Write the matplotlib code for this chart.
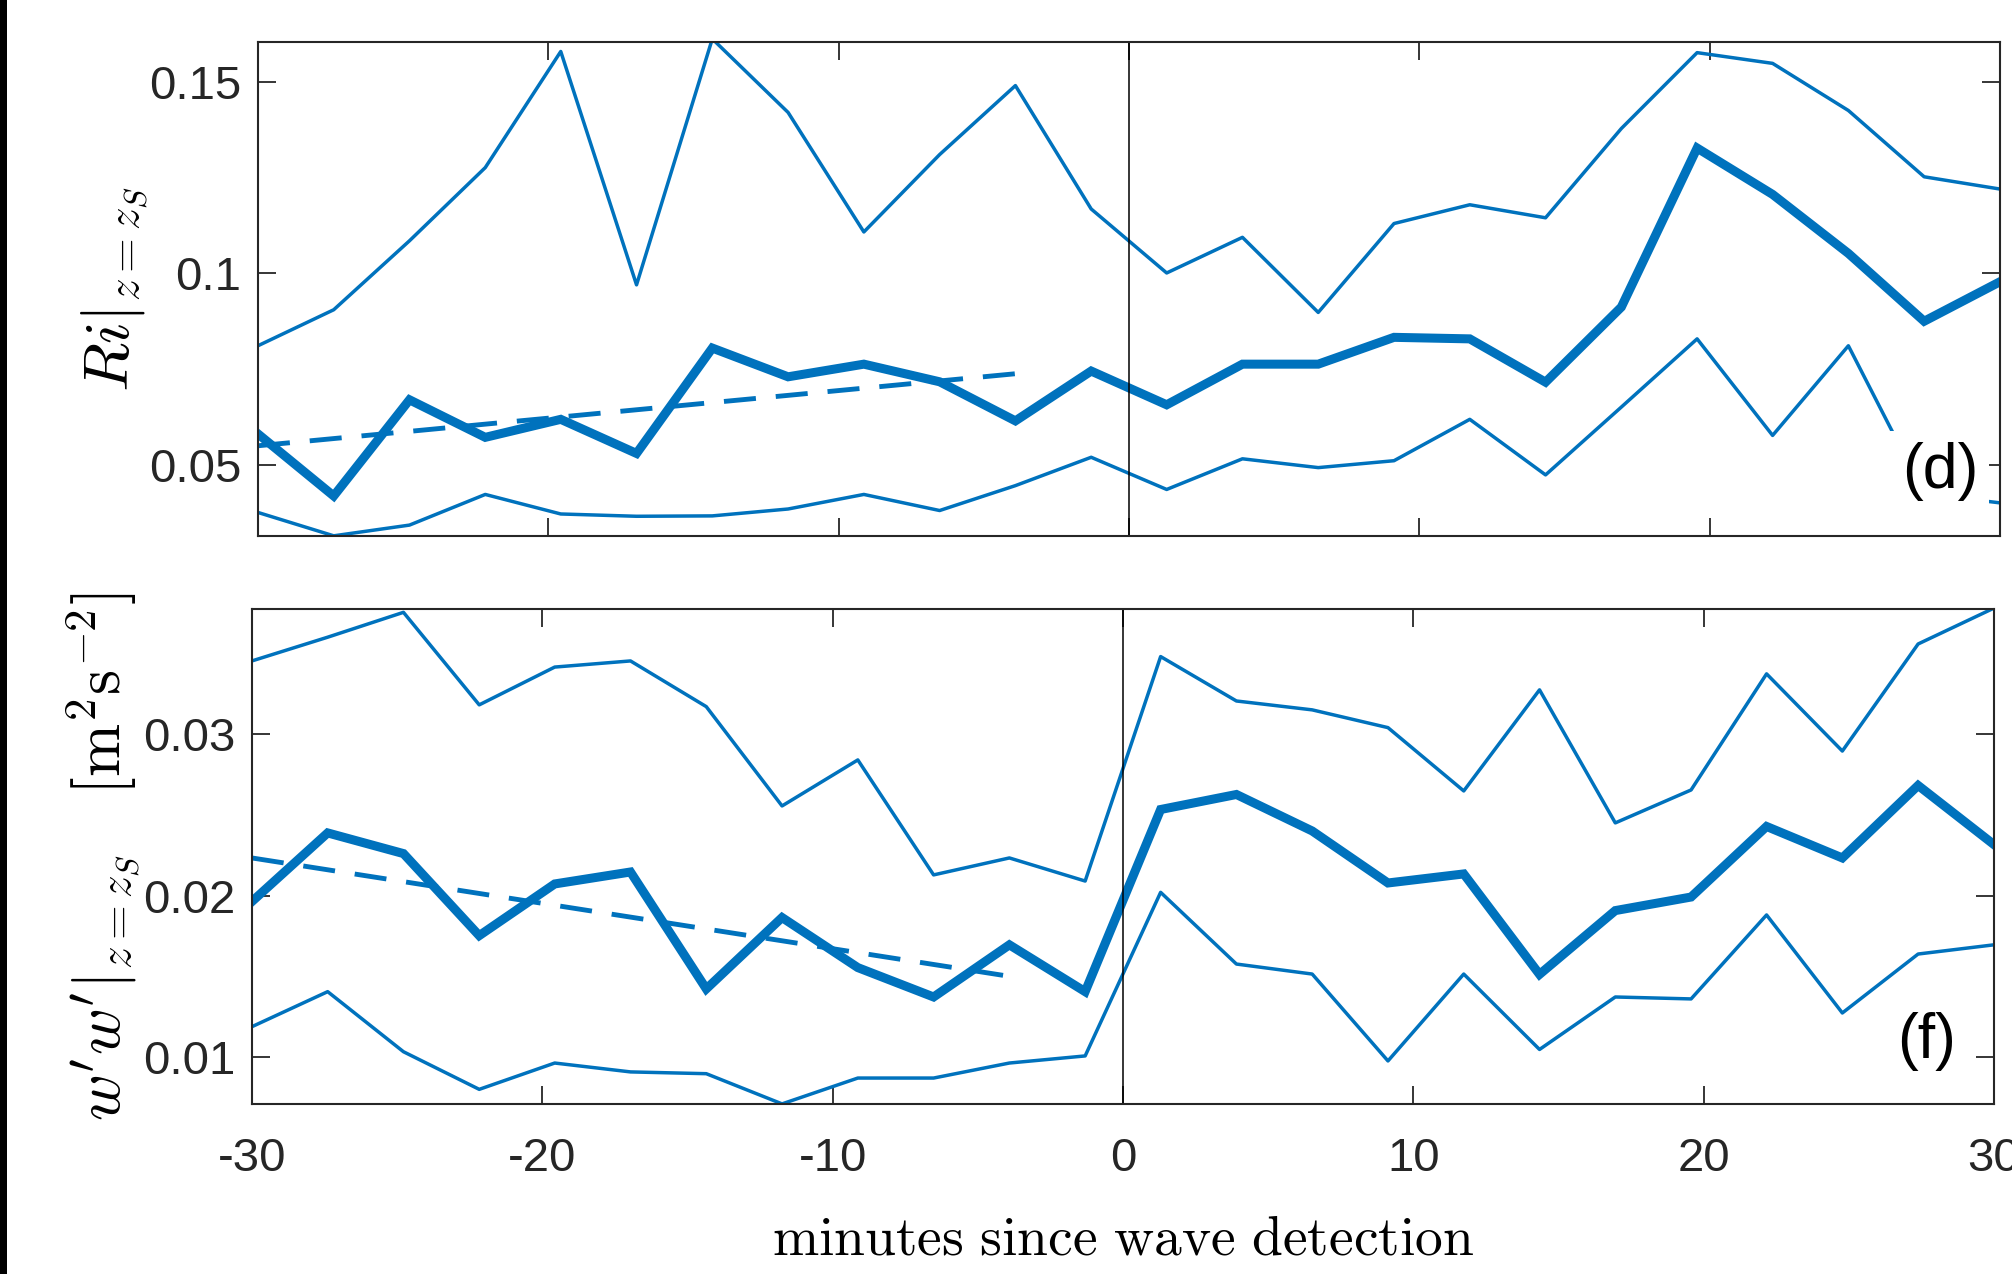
import numpy as np
import matplotlib
matplotlib.use("Agg")
import matplotlib.pyplot as plt
from matplotlib.patches import Rectangle

# time axis: minutes since wave detection (24 samples)
minutes = [-30.00, -27.39, -24.78, -22.17, -19.57, -16.96, -14.35, -11.74,
           -9.13, -6.52, -3.91, -1.30, 1.30, 3.91, 6.52, 9.13,
           11.74, 14.35, 16.96, 19.57, 22.17, 24.78, 27.39, 30.00]

# panel (d): Ri at z = z_S
ri_upper = [0.0811, 0.0905, 0.1085, 0.1276, 0.1579, 0.0970, 0.1612, 0.1420,
            0.1108, 0.1310, 0.1490, 0.1168, 0.1001, 0.1094, 0.0898, 0.1130,
            0.1179, 0.1145, 0.1378, 0.1576, 0.1548, 0.1425, 0.1252, 0.1220]
ri_median = [0.0581, 0.0419, 0.0670, 0.0572, 0.0619, 0.0530, 0.0805, 0.0730,
             0.0763, 0.0717, 0.0615, 0.0745, 0.0657, 0.0763, 0.0763, 0.0833,
             0.0829, 0.0716, 0.0912, 0.1327, 0.1206, 0.1052, 0.0875, 0.0978]
ri_lower = [0.0376, 0.0315, 0.0343, 0.0423, 0.0372, 0.0366, 0.0367, 0.0385,
            0.0423, 0.0381, 0.0446, 0.0520, 0.0436, 0.0516, 0.0493, 0.0511,
            0.0619, 0.0474, 0.0651, 0.0829, 0.0577, 0.0811, 0.0425, 0.0401]
ri_trend_t = [-30.00, -3.91]
ri_trend = [0.0550, 0.0738]

# panel (f): w'w' at z = z_S
ww_upper = [0.03453, 0.03600, 0.03754, 0.03181, 0.03415, 0.03453, 0.03170, 0.02555,
            0.02840, 0.02128, 0.02233, 0.02090, 0.03480, 0.03205, 0.03150, 0.03040,
            0.02648, 0.03274, 0.02450, 0.02654, 0.03373, 0.02895, 0.03558, 0.03780]
ww_median = [0.01963, 0.02388, 0.02260, 0.01752, 0.02072, 0.02146, 0.01422, 0.01864,
             0.01554, 0.01372, 0.01695, 0.01405, 0.02533, 0.02626, 0.02400, 0.02078,
             0.02134, 0.01512, 0.01907, 0.01991, 0.02428, 0.02233, 0.02682, 0.02316]
ww_lower = [0.01188, 0.01405, 0.01033, 0.00800, 0.00963, 0.00908, 0.00897, 0.00710,
            0.00870, 0.00870, 0.00963, 0.01007, 0.02020, 0.01576, 0.01514, 0.00976,
            0.01514, 0.01047, 0.01372, 0.01360, 0.01880, 0.01273, 0.01638, 0.01695]
ww_trend_t = [-30.00, -3.91]
ww_trend = [0.02233, 0.01500]

xticks = [-30, -20, -10, 0, 10, 20, 30]
ri_ticks = [0.05, 0.1, 0.15]
ri_ticklabels = ["0.05", "0.1", "0.15"]
ww_ticks = [0.01, 0.02, 0.03]
ww_ticklabels = ["0.01", "0.02", "0.03"]

blue = "#0072BD"
dark = "#262626"

plt.rcParams["mathtext.fontset"] = "cm"
plt.rcParams["axes.unicode_minus"] = False
plt.rcParams["font.family"] = ["Liberation Sans Narrow", "Liberation Sans", "DejaVu Sans"]

fig = plt.figure(figsize=(20.12, 12.74), dpi=100)
ax1 = fig.add_axes([0.1282, 0.5793, 0.8658, 0.3878])
ax2 = fig.add_axes([0.1252, 0.1334, 0.8658, 0.3885])

# dark strip on the left edge
fig.patches.append(Rectangle((0, 0), 0.0035, 1, transform=fig.transFigure,
                             facecolor="black", edgecolor="none"))


def draw_panel(ax, upper, median, lower, trend_t, trend, ylim, yticks, yticklabels, tag):
    ax.plot(minutes, upper, color=blue, lw=2.5)
    ax.plot(minutes, median, color=blue, lw=6.5, solid_joinstyle="miter")
    ax.plot(minutes, lower, color=blue, lw=2.5)
    ax.plot(trend_t, trend, color=blue, lw=3.5, linestyle=(0, (6.6, 4.1)))
    ax.axvline(0, color="black", lw=1.1, zorder=5)
    ax.set_xlim(-30, 30)
    ax.set_ylim(*ylim)
    ax.set_xticks(xticks)
    ax.set_yticks(yticks)
    ax.set_yticklabels(yticklabels)
    ax.tick_params(direction="in", length=13, width=1.3, color=dark,
                   top=True, right=True, labelsize=34, labelcolor=dark)
    ax.tick_params(axis="y", pad=12)
    ax.tick_params(axis="x", pad=24)
    for sp in ax.spines.values():
        sp.set_linewidth(1.5)
        sp.set_color(dark)
        sp.set_zorder(6)
    ax.text(tag[0], tag[1], tag[2], transform=ax.transAxes, ha="center", va="center",
            fontsize=45, color="black", zorder=7,
            bbox=dict(facecolor="white", edgecolor="none", pad=8))


draw_panel(ax1, ri_upper, ri_median, ri_lower, ri_trend_t, ri_trend,
           (0.03146, 0.1604), ri_ticks, ri_ticklabels, (0.9655, 0.1300, "(d)"))
draw_panel(ax2, ww_upper, ww_median, ww_lower, ww_trend_t, ww_trend,
           (0.00709, 0.03774), ww_ticks, ww_ticklabels, (0.9615, 0.1260, "(f)"))

ax1.tick_params(axis="x", labelbottom=False)

ax1.set_ylabel(r"$Ri|_{z=z_S}$", fontsize=46)
ax1.yaxis.set_label_coords(-0.062, 0.5)
ax2.set_ylabel(r"$w'w'|_{z=z_S}\quad[\mathrm{m}^2\mathrm{s}^{-2}]$", fontsize=46)
ax2.yaxis.set_label_coords(-0.063, 0.5)
ax2.set_xlabel(r"$\mathrm{minutes\ since\ wave\ detection}$", fontsize=40, labelpad=24)

fig.savefig("out.png", dpi=100)
